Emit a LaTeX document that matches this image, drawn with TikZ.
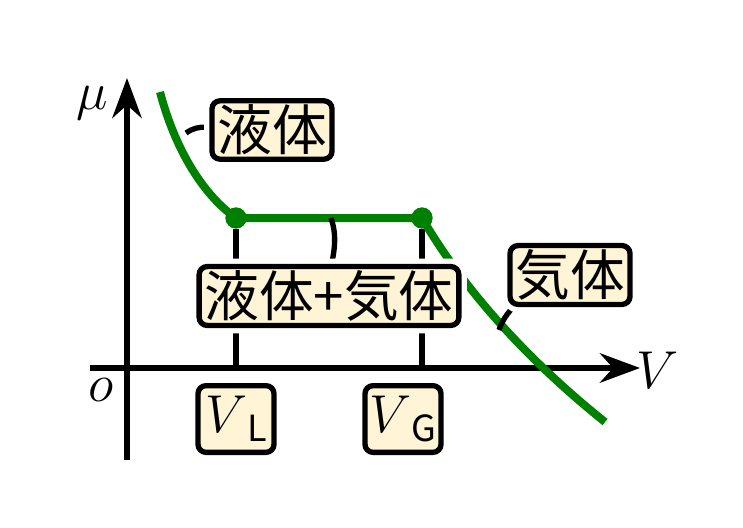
\RequirePackage{fix-cm}
\documentclass[tikz,border=0pt]{standalone}
\usepackage{fontspec}
\newfontfamily\cjk{Noto Sans CJK JP}
\usetikzlibrary{arrows.meta}
\definecolor{boxfill}{HTML}{FFF5D6}
\definecolor{curvegreen}{HTML}{008000}
\tikzset{
  axis/.style = {line width = 4.5pt, -{Stealth[length = 30pt, width = 22pt]}},
  % state curve
  state/.style = {line width = 6pt, curvegreen},
  guide/.style = {line width = 4pt},
  % label box with white halo
  tag/.style = {
    draw, line width = 4pt, fill = boxfill, rounded corners = 6pt,
    inner xsep = 4pt, inner ysep = 3pt, font = \cjk\fontsize{41}{46}\selectfont,
    preaction = {draw = white, line width = 12pt}
  },
  vtag/.style = {tag, minimum width = 57pt, minimum height = 50pt, inner sep = 1pt}
}
\begin{document}
\begin{tikzpicture}[x=0.75pt, y=-0.75pt]
    \useasboundingbox (0,0) rectangle (743,528);

    \coordinate (org) at (127,368);
    \coordinate (xend) at (640,368);
    \coordinate (yend) at (127,78);
    \node[circle, fill = curvegreen, inner sep = 0, minimum size = 16pt] (pL) at (236,218) {};
    \node[circle, fill = curvegreen, inner sep = 0, minimum size = 16pt] (pG) at (422,218) {};
    \coordinate (aL) at (236,368);
    \coordinate (aG) at (422,368);

    \draw[guide] (pL) -- (aL);
    \draw[guide] (pG) -- (aG);
    \draw[axis] (90,368) -- (xend);
    \draw[axis] (127,460) -- (yend);

    \node[font = \fontsize{40}{46}\selectfont] (mu) at (92,103) {$\mu$};
    \node[font = \fontsize{40}{46}\selectfont] (vlab) at (658,370) {$V$};
    \node[font = \fontsize{40}{46}\selectfont] (olab) at (101,390) {$o$};

    \draw[state] (160,92) .. controls (178,160) and (210,200) .. (pL.center)
      -- (pG.center) .. controls (470,300) and (540,370) .. (605,422);

    \draw[guide] (186,133) .. controls (198,124) and (215,126) .. (228,134);
    \draw[guide] (331,218) .. controls (336,232) and (336,248) .. (330,270);
    \draw[guide] (499,330) .. controls (503,318) and (510,310) .. (520,300);

    \node[tag] (liq) at (272,130) {液体};
    \node[tag] (mix) at (329,296) {液体+気体};
    \node[tag] (gas) at (570,275) {気体};
    \node[vtag] (vL) at (236,419) {\fontsize{40}{46}\selectfont$V$\raisebox{-7pt}{\fontsize{27}{30}\selectfont L}};
    \node[vtag] (vG) at (403,419) {\fontsize{40}{46}\selectfont$V$\raisebox{-7pt}{\fontsize{27}{30}\selectfont G}};
\end{tikzpicture}
\end{document}
